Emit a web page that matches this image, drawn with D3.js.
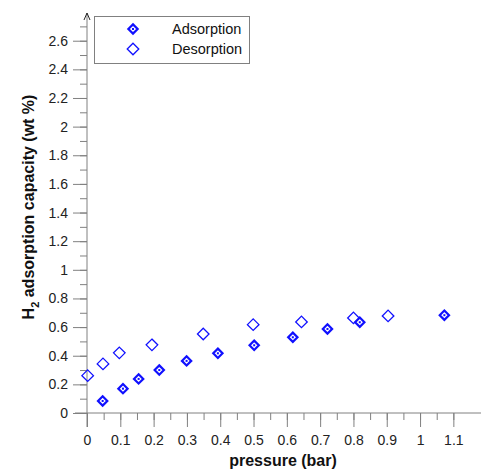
<!DOCTYPE html>
<html>
<head>
<meta charset="utf-8">
<script src="https://cdn.jsdelivr.net/npm/d3@7"></script>
<style>
  body { margin: 0; background: #fff; }
  text { font-family: "Liberation Sans", Arial, sans-serif; }
</style>
</head>
<body>
<div class="graph"></div>
<script>
// adsorption / desorption isotherm points
const adsP = [0.047, 0.108, 0.155, 0.217, 0.299, 0.393, 0.502, 0.618, 0.722, 0.819, 1.073]
const adsV = [0.084, 0.17, 0.238, 0.30, 0.364, 0.417, 0.473, 0.529, 0.587, 0.634, 0.683]
const desP = [0.002, 0.048, 0.097, 0.195, 0.349, 0.499, 0.644, 0.80, 0.904]
const desV = [0.261, 0.343, 0.42, 0.476, 0.552, 0.617, 0.636, 0.664, 0.678]
const xTicks = [0, 0.1, 0.2, 0.3, 0.4, 0.5, 0.6, 0.7, 0.8, 0.9, 1, 1.1]
const yTicks = [0, 0.2, 0.4, 0.6, 0.8, 1, 1.2, 1.4, 1.6, 1.8, 2, 2.2, 2.4, 2.6]
const seriesNames = ["Adsorption", "Desorption"]

const width = 481
const height = 470
const axisCol = "#808080"
const blue = "#1010ff"

const x = d3.scaleLinear().domain([0, 1.183]).range([87, 481])
const y = d3.scaleLinear().domain([0, 2.79]).range([413, 13.5])

const svg = d3.select(".graph").append("svg")
  .attr("width", width)
  .attr("height", height)

const adsorption = adsP.map((p, i) => ({p: p, v: adsV[i]}))
const desorption = desP.map((p, i) => ({p: p, v: desV[i]}))

// x axis
const xMinor = d3.range(0, 23).map(i => i * 0.05)
const xAxis = g => g
  .attr("transform", `translate(0,${y(0)})`)
  .call(d3.axisBottom(x).tickValues(xMinor).tickSize(7).tickFormat(""))
  .call(g => g.append("g").call(d3.axisBottom(x).tickValues(xTicks).tickSize(14).tickPadding(8)
      .tickFormat(d => d3.format("")(+d.toFixed(1)))))
  .call(g => g.selectAll(".domain").remove())
  .call(g => g.append("line").attr("x1", 75).attr("x2", width).attr("stroke", axisCol))
  .call(g => g.selectAll("line").attr("stroke", axisCol))
  .call(g => g.selectAll("text").attr("fill", "#222").style("font-size", "14px"))

// y axis
const yMinor = d3.range(0, 28).map(i => i * 0.1)
const yAxis = g => g
  .attr("transform", `translate(${x(0)},0)`)
  .call(d3.axisLeft(y).tickValues(yMinor).tickSize(7).tickFormat(""))
  .call(g => g.append("g").call(d3.axisLeft(y).tickValues(yTicks).tickSize(14).tickPadding(5)
      .tickFormat(d => d3.format("")(+d.toFixed(1)))))
  .call(g => g.selectAll(".domain").remove())
  .call(g => g.append("line").attr("y1", 427).attr("y2", 13).attr("stroke", axisCol))
  .call(g => g.append("path").attr("d", "M-3,20L0,13L3,20").attr("fill", "none").attr("stroke", "#222"))
  .call(g => g.selectAll("line").attr("stroke", axisCol))
  .call(g => g.selectAll("text").attr("fill", "#222").style("font-size", "14px"))

svg.append("g").call(xAxis)
svg.append("g").call(yAxis)

// axis titles
svg.append("text")
  .attr("x", 283).attr("y", 466)
  .attr("text-anchor", "middle")
  .style("font-size", "16px").style("font-weight", "bold")
  .attr("fill", "#111")
  .text("pressure (bar)")

const yt = svg.append("text")
  .attr("transform", "translate(34,207) rotate(-90)")
  .attr("text-anchor", "middle")
  .style("font-size", "16px").style("font-weight", "bold")
  .attr("fill", "#111")
yt.append("tspan").text("H")
yt.append("tspan").attr("dy", 5).style("font-size", "11px").text("2")
yt.append("tspan").attr("dy", -5).text(" adsorption capacity (wt %)")

// markers
const diamond = d3.symbol().type(d3.symbolDiamond2).size(85)
const diamondSmall = d3.symbol().type(d3.symbolDiamond2).size(55)

svg.append("g").selectAll("path")
  .data(desorption)
  .join("path")
  .attr("transform", d => `translate(${x(d.p)},${y(d.v)})`)
  .attr("d", diamond)
  .attr("fill", "none")
  .attr("stroke", blue)
  .attr("stroke-width", 1.3)

const ads = svg.append("g").selectAll("g")
  .data(adsorption)
  .join("g")
  .attr("transform", d => `translate(${x(d.p)},${y(d.v)})`)
ads.append("path")
  .attr("d", diamondSmall)
  .attr("fill", "none")
  .attr("stroke", blue)
  .attr("stroke-width", 2.2)
ads.append("rect")
  .attr("x", -1).attr("y", -1).attr("width", 2).attr("height", 2)
  .attr("fill", blue)

// legend
const legend = svg.append("g")
legend.append("rect")
  .attr("x", 94.5).attr("y", 16.5).attr("width", 155).attr("height", 47)
  .attr("fill", "#fff").attr("stroke", "#808080")
seriesNames.forEach((name, i) => {
  const ly = 29 + i * 20
  if (i === 0) {
    legend.append("path").attr("transform", `translate(133,${ly})`)
      .attr("d", diamondSmall)
      .attr("fill", "none").attr("stroke", blue).attr("stroke-width", 2.2)
    legend.append("rect").attr("x", 132).attr("y", ly - 1).attr("width", 2).attr("height", 2).attr("fill", blue)
  } else {
    legend.append("path").attr("transform", `translate(133,${ly})`)
      .attr("d", diamond)
      .attr("fill", "none").attr("stroke", blue).attr("stroke-width", 1.3)
  }
  legend.append("text")
    .attr("x", 172).attr("y", ly + 5)
    .style("font-size", "14.5px").attr("fill", "#111")
    .text(name)
})
</script>
</body>
</html>
